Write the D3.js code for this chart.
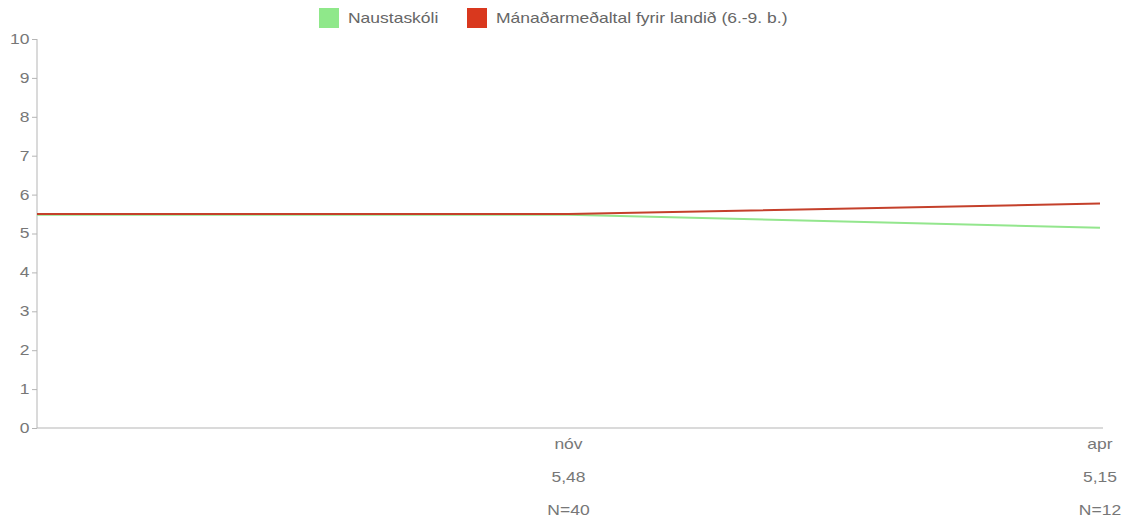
<!DOCTYPE html>
<html>
<head>
<meta charset="utf-8">
<script src="https://cdn.jsdelivr.net/npm/d3@7"></script>
<style>
body { margin: 0; background: #fff; font-family: "Liberation Sans", Arial, sans-serif; }
</style>
</head>
<body>
<div id="chart"></div>
<script>
var months = ["", "nóv", "apr"];
var schoolValues = [5.48, 5.48, 5.15];
var countryValues = [5.5, 5.5, 5.77];
var meanLabels = ["", "5,48", "5,15"];
var countLabels = ["", "N=40", "N=12"];
var seriesNames = ["Naustaskóli", "Mánaðarmeðaltal fyrir landið (6.-9. b.)"];
var seriesColors = ["#8fe88a", "#d9381e"];
var lineColors = ["#93e68d", "#c4402b"];

var width = 1128, height = 523;
var margin = {left: 37, right: 28, top: 39, bottom: 95};
var stretch = "scale(1.25,1)"; // text in the picture is drawn wide

var svg = d3.select("#chart").append("svg")
	.attr("width", width)
	.attr("height", height);

var x = d3.scalePoint()
	.domain(d3.range(months.length))
	.range([margin.left, width - margin.right]);

var y = d3.scaleLinear()
	.domain([0, 10])
	.range([height - margin.bottom, margin.top]);

// y axis
var yAxis = svg.append("g")
	.attr("transform", "translate(" + margin.left + ",0)")
	.call(d3.axisLeft(y).ticks(10).tickSize(5).tickPadding(1));
yAxis.select(".domain").attr("stroke", "#b5b5b5").attr("d", "M0," + y(0) + "V" + y(10));
yAxis.selectAll(".tick line").attr("stroke", "#b5b5b5");
yAxis.selectAll(".tick text")
	.attr("fill", "#777")
	.attr("transform", stretch)
	.style("font-size", "14px");

// x axis line
svg.append("line")
	.attr("x1", margin.left).attr("x2", width - margin.right + 3)
	.attr("y1", y(0)).attr("y2", y(0))
	.attr("stroke", "#b5b5b5");

// x labels (three rows)
var rows = [months, meanLabels, countLabels];
rows.forEach(function(row, r){
	svg.append("g").selectAll("text")
		.data(row)
		.enter().append("text")
		.attr("transform", function(d, i){
			return "translate(" + x(i) + "," + (y(0) + 21 + r * 33) + ") " + stretch;
		})
		.attr("text-anchor", "middle")
		.attr("fill", "#777")
		.style("font-size", "14px")
		.text(function(d){ return d; });
});

var line = d3.line()
	.x(function(d, i){ return x(i); })
	.y(function(d){ return y(d); });

[schoolValues, countryValues].forEach(function(vals, s){
	svg.append("path")
		.datum(vals)
		.attr("fill", "none")
		.attr("stroke", lineColors[s])
		.attr("stroke-width", 2)
		.attr("d", line);
});

// legend
var legendX = [319, 467];
seriesNames.forEach(function(name, s){
	var g = svg.append("g").attr("transform", "translate(" + legendX[s] + ",8)");
	g.append("rect")
		.attr("width", 20).attr("height", 20)
		.attr("fill", seriesColors[s]);
	g.append("text")
		.attr("transform", "translate(29,15) " + stretch)
		.attr("fill", "#666")
		.style("font-size", "14px")
		.text(name);
});
</script>
</body>
</html>
